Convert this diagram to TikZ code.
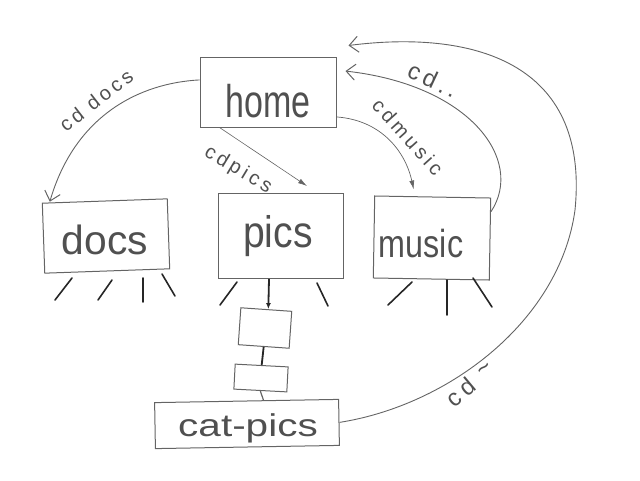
\documentclass[tikz,border=0pt]{standalone}
\usepackage{fontspec}
\setmainfont{Liberation Sans}
\usetikzlibrary{arrows.meta}
\definecolor{pen}{RGB}{100,100,100}
\definecolor{ink}{RGB}{80,80,80}
\tikzset{
  box/.style={draw=pen, line width=1pt, inner sep=0pt},
  word/.style={text=ink, inner sep=0pt},
  lbl/.style={text=ink, inner sep=0pt, font=\fontsize{20}{20}\selectfont\addfontfeature{LetterSpace=18}},
  link/.style={draw=pen, line width=0.9pt},
  barb/.style={-{Straight Barb[length=9pt,width=16pt,line width=1pt]}},
  ray/.style={draw=black!85, line width=1.6pt, line cap=round},
  thick link/.style={draw=black!85, line width=1.8pt}
}
\newcommand{\hw}[3]{\scalebox{#1}[#2]{#3}}
\begin{document}
\begin{tikzpicture}[x=1pt,y=-1pt]
\useasboundingbox (0,0) rectangle (640,480);
% boxes
\node[box, minimum width=136pt, minimum height=70pt] (home) at (268,92) {};
\node[box, minimum width=125pt, minimum height=70pt, rotate=2] (docs) at (106,236) {};
\node[box, minimum width=125pt, minimum height=85pt] (pics) at (281,236) {};
\node[box, minimum width=116pt, minimum height=82pt, rotate=-1] (music) at (432,238) {};
\node[box, minimum width=51pt, minimum height=37pt, rotate=-4] (sbone) at (265,328) {};
\node[box, minimum width=53pt, minimum height=25pt, rotate=-3] (sbtwo) at (261,378) {};
\node[box, minimum width=184pt, minimum height=46pt, rotate=1] (catpics) at (247,424) {};
% box texts
\node[word] (hometxt) at (268,101) {\hw{1.0}{1.35}{\fontsize{34}{34}\selectfont home}};
\node[word] (docstxt) at (105,240) {\hw{1.2}{1.2}{\fontsize{34}{34}\selectfont docs}};
\node[word] (picstxt) at (278,236) {\hw{1.15}{1.3}{\fontsize{34}{34}\selectfont pics}};
\node[word] (musictxt) at (421,244) {\hw{0.95}{1.15}{\fontsize{34}{34}\selectfont music}};
\node[word] (catpicstxt) at (248,428) {\hw{1.35}{1.05}{\fontsize{30}{30}\selectfont cat-pics}};
% cd docs
\draw[link, barb] (home.170) .. controls (140,83) and (75,115) .. ([xshift=8pt,yshift=1pt]docs.north west);
\node[lbl, rotate=38] (ldocs) at (96,100) {cd docs};
% cd pics
\draw[link, line width=0.6pt, -{Latex[length=9pt,width=5pt]}] ([xshift=20pt]home.south west) -- ([xshift=26pt,yshift=7pt]pics.north);
\node[lbl, rotate=-31] (lpics) at (238,170) {cdpics};
% cd music
\draw[link, line width=0.7pt, -{Latex[length=9pt,width=5pt]}] (home.-20) .. controls (380,120) and (405,150) .. ([xshift=-19pt,yshift=7pt]music.north);
\node[lbl, rotate=-48] (lmusic) at (408,137) {cdmusic};
% cd ..
\draw[link, barb] (music.25) .. controls (525,160) and (470,85) .. ([xshift=9pt]home.17);
\node[lbl, rotate=-25] (lup) at (433,80) {\fontsize{24}{24}\selectfont cd..};
% cd ~
\draw[link, barb] (catpics.east) .. controls (450,405) and (560,320) .. (575,210) .. controls (590,60) and (470,30) .. ([xshift=12pt,yshift=11pt]home.north east);
\node[lbl, rotate=40] (lhome) at (470,384) {\fontsize{24}{24}\selectfont cd \raisebox{4pt}{\textasciitilde}};
% stack connectors
\draw[thick link, -{Latex[length=6pt,width=5pt]}] (pics.south) ++(-12pt,0) coordinate (pa) (pa) -- ([xshift=2pt]sbone.north);
\draw[thick link] (sbone.south) -- (sbtwo.north);
\draw[link, line width=1.2pt] (sbtwo.south) -- ([xshift=17pt]catpics.north);
% rays under docs
\draw[ray] (72,278) -- (55,300);
\draw[ray] (112,280) -- (98,300);
\draw[ray] (143,278) -- (143,302);
\draw[ray] (162,274) -- (175,296);
% rays under pics
\draw[ray] (237,282) -- (220,305);
\draw[ray] (317,283) -- (328,306);
% rays under music
\draw[ray] (412,282) -- (388,305);
\draw[ray] (447,280) -- (447,315);
\draw[ray] (473,278) -- (492,307);
\end{tikzpicture}
\end{document}
